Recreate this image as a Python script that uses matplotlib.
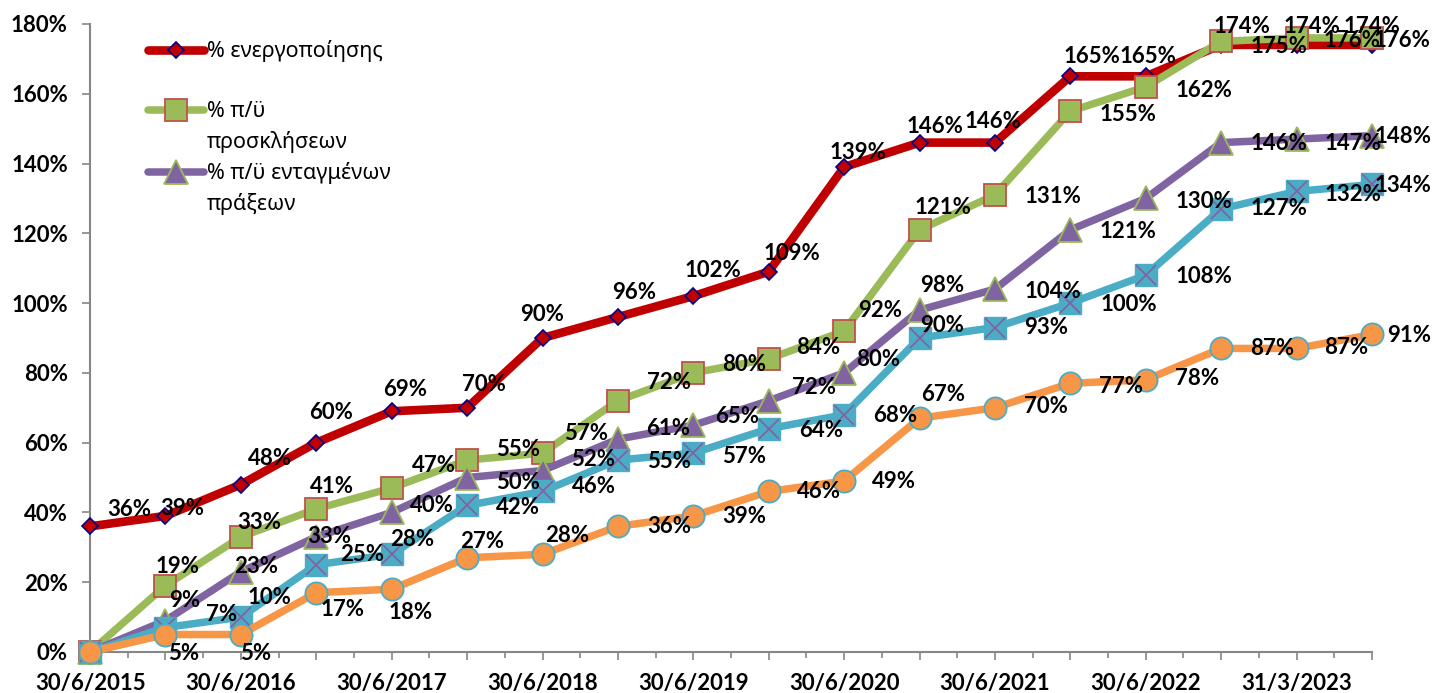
import matplotlib.pyplot as plt
from matplotlib.lines import Line2D
import numpy as np

# categories (only every other date is labelled on the axis)
x_labels = ['30/6/2015', '', '30/6/2016', '', '30/6/2017', '', '30/6/2018', '',
            '30/6/2019', '', '30/6/2020', '', '30/6/2021', '', '30/6/2022', '',
            '31/3/2023', '']

energ = [36, 39, 48, 60, 69, 70, 90, 96, 102, 109, 139, 146, 146, 165, 165, 174, 174, 174]
prosk = [0, 19, 33, 41, 47, 55, 57, 72, 80, 84, 92, 121, 131, 155, 162, 175, 176, 176]
entag = [0, 9, 23, 33, 40, 50, 52, 61, 65, 72, 80, 98, 104, 121, 130, 146, 147, 148]
series4 = [0, 7, 10, 25, 28, 42, 46, 55, 57, 64, 68, 90, 93, 100, 108, 127, 132, 134]
series5 = [0, 5, 5, 17, 18, 27, 28, 36, 39, 46, 49, 67, 70, 77, 78, 87, 87, 91]

# legend rows (Excel wraps the long names, handle sits on the first line)
legend_rows = ['% ενεργοποίησης', '', '% π/ϋ', 'προσκλήσεων', '% π/ϋ ενταγμένων', 'πράξεων']

# label offsets in pixels (dx, dy up), None = no label
red_off = [(39, 17), (17, 7), (29, 26), (15, 30), (13, 22), (17, 23), (0, 23), (16, 25), (20, 26),
           (23, 18), (14, 15), (15, 16), (-2, 21), (22, 20), (2, 20), (21, 18), (15, 18), (0, 18)]
green_off = [None, (12, 19), (18, 14), (16, 22), (42, 22), (51, 11), (44, 20), (51, 18), (51, 8),
             (49, 11), (36, 20), (23, 22), (58, -2), (58, -3), (58, -4), (58, -5), (55, -3), (30, -3)]
purple_off = [None, (19, 20), (15, 5), (13, 0), (40, 7), (51, -5), (51, 11), (50, 11), (44, 9),
              (45, 13), (34, 13), (23, 25), (58, -2), (58, -2), (58, -3), (58, -1), (56, -4), (31, -1)]
cyan_off = [None, (56, 13), (29, 20), (46, 10), (20, 15), (51, -2), (51, 5), (51, -1), (51, -3),
            (52, -2), (51, -1), (23, 12), (51, 0), (58, -1), (58, -1), (58, 0), (56, -3), (31, -1)]
orange_off = [None, (18, -19), (15, -19), (26, -17), (19, -23), (15, 16), (25, 19), (51, 0), (51, -1),
              (50, 0), (50, 0), (24, 24), (51, 1), (51, -3), (51, 1), (51, 0), (50, 1), (37, -1)]

RED = '#C00000'
GREEN = '#9BBB59'
PURPLE = '#8064A2'
CYAN = '#4BACC6'
ORANGE = '#F79646'
GRAY = '#868686'

fig = plt.figure(figsize=(14.48, 6.93), dpi=100)
ax = fig.add_axes([0.0622, 0.0592, 0.8853, 0.9062])
x = np.arange(len(energ))

l1, = ax.plot(x, energ, color=RED, lw=6.2, marker='D', ms=8, mfc=RED, mec='#00008B', mew=1.2,
              solid_capstyle='round', zorder=3, clip_on=False)
l2, = ax.plot(x, prosk, color=GREEN, lw=5.4, marker='s', ms=16, mfc=GREEN, mec='#C0504D', mew=1.3,
              solid_capstyle='round', zorder=4, clip_on=False)
l3, = ax.plot(x, entag, color=PURPLE, lw=5.4, marker='^', ms=17, mfc=PURPLE, mec=GREEN, mew=1.3,
              solid_capstyle='round', zorder=5, clip_on=False)
ax.plot(x, series4, color=CYAN, lw=5.4, marker='s', ms=16, mfc=CYAN, mec=CYAN,
        solid_capstyle='round', zorder=6, clip_on=False)
ax.plot(x, series4, ls='none', marker='x', ms=14, mec=PURPLE, mew=1.3, zorder=6.5, clip_on=False)
ax.plot(x, series5, color=ORANGE, lw=5.4, marker='o', ms=16, mfc=ORANGE, mec=CYAN, mew=1.3,
        solid_capstyle='round', zorder=7, clip_on=False)

for vals, offs in [(energ, red_off), (prosk, green_off), (entag, purple_off),
                   (series4, cyan_off), (series5, orange_off)]:
    for i, v in enumerate(vals):
        if offs[i] is None:
            continue
        ax.annotate(f'{v}%', (i, v), xytext=offs[i], textcoords='offset pixels',
                    ha='center', va='center', fontsize=16, fontweight='bold',
                    family='Lato', color='black', zorder=10, annotation_clip=False)

ax.set_xlim(0, len(energ) - 1)
ax.set_ylim(0, 180)
ax.set_yticks(np.arange(0, 181, 20))
ax.set_yticklabels([f'{t}%' for t in range(0, 181, 20)])
ax.set_xticks(x)
ax.set_xticklabels(x_labels)
ax.set_xticks(x[:-1] + 0.5, minor=True)

for lab in ax.get_xticklabels() + ax.get_yticklabels():
    lab.set_fontweight('bold')
    lab.set_fontsize(16)
    lab.set_family('Lato')

ax.tick_params(axis='y', length=6, width=1.2, color=GRAY, pad=10)
ax.tick_params(axis='x', which='major', length=6, width=1.2, color=GRAY, pad=9)
ax.tick_params(axis='x', which='minor', length=4, width=1.2, color=GRAY)
for s in ['top', 'right']:
    ax.spines[s].set_visible(False)
for s in ['left', 'bottom']:
    ax.spines[s].set_color(GRAY)
    ax.spines[s].set_linewidth(1.5)

blank = Line2D([], [], color='none')
handles = [l1, blank, l2, blank, l3, blank]
leg = ax.legend(handles, legend_rows, loc='upper left', bbox_to_anchor=(0.03, 1.005),
                frameon=False, handlelength=2.6, handletextpad=0.15, labelspacing=0.42,
                prop={'family': 'Noto Sans', 'size': 15.5})

fig.savefig('out.png', dpi=100)
